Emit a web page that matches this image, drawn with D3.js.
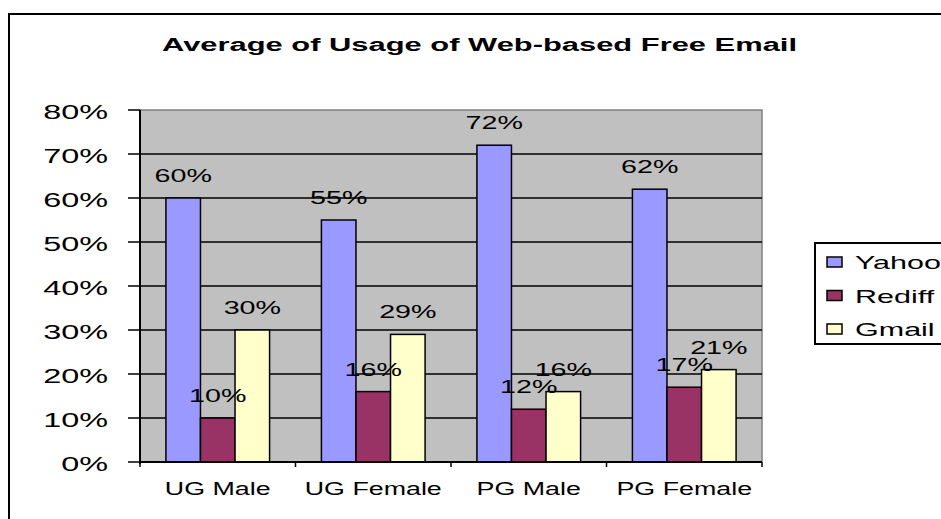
<!DOCTYPE html>
<html>
<head>
<meta charset="utf-8">
<script src="https://cdn.jsdelivr.net/npm/d3@7.9.0/dist/d3.min.js"></script>
<style>
  html, body { margin: 0; padding: 0; background: #fff; overflow: hidden; }
  text { font-family: "Liberation Sans", Arial, sans-serif; fill: #000; }
</style>
</head>
<body>
<div id="chart"></div>
<script>
// === Data ===
const categories = ["UG Male", "UG Female", "PG Male", "PG Female"];
const seriesNames = ["Yahoo", "Rediff", "Gmail"];
const yahoo = [0.60, 0.55, 0.72, 0.62];
const rediff = [0.10, 0.16, 0.12, 0.17];
const gmail = [0.30, 0.29, 0.16, 0.21];
const yTicks = [0, 0.1, 0.2, 0.3, 0.4, 0.5, 0.6, 0.7, 0.8];
const title = "Average of Usage of Web-based Free Email";

const seriesColors = ["#9999ff", "#993366", "#ffffcc"];

// === Layout ===
const W = 941, H = 519;
const plot = { left: 140, right: 762, top: 110, bottom: 462 };
const stretch = 1.55; // the reference text is drawn wide

const svg = d3.select("#chart").append("svg")
    .attr("width", W).attr("height", H);

// outer chart border (runs off the right and bottom of the picture)
svg.append("rect")
    .attr("x", 9).attr("y", 14)
    .attr("width", 960).attr("height", 540)
    .attr("fill", "#fff").attr("stroke", "#000").attr("stroke-width", 2);

// === Scales ===
const x = d3.scaleBand().domain(categories).range([plot.left, plot.right]).padding(0);
const y = d3.scaleLinear().domain([0, 0.8]).range([plot.bottom, plot.top]);
const barW = x.bandwidth() / 4.5;
const xInner = d3.scaleBand().domain(seriesNames)
    .range([barW * 0.75, barW * 3.75]).padding(0);

// helper for horizontally stretched text
function wideText(g, tx, ty, str, size, sx, anchor) {
    return g.append("text")
        .attr("transform", `translate(${tx},${ty}) scale(${sx},1)`)
        .attr("text-anchor", anchor || "middle")
        .style("font-size", size + "px")
        .text(str);
}

// === Plot area ===
svg.append("rect")
    .attr("x", plot.left).attr("y", plot.top)
    .attr("width", plot.right - plot.left).attr("height", plot.bottom - plot.top)
    .attr("fill", "#c0c0c0").attr("stroke", "#808080").attr("stroke-width", 1.5);

// gridlines
svg.append("g").selectAll("line")
    .data(yTicks.filter(t => t > 0 && t < 0.8))
    .join("line")
    .attr("x1", plot.left).attr("x2", plot.right)
    .attr("y1", d => y(d)).attr("y2", d => y(d))
    .attr("stroke", "#000").attr("stroke-width", 1.5);

// === Bars ===
const rows = categories.map((c, i) => ({
    cat: c,
    values: [yahoo[i], rediff[i], gmail[i]]
}));

const groups = svg.append("g").selectAll("g")
    .data(rows)
    .join("g")
    .attr("transform", d => `translate(${x(d.cat)},0)`);

groups.selectAll("rect")
    .data(d => d.values.map((v, j) => ({ name: seriesNames[j], v, j })))
    .join("rect")
    .attr("x", d => xInner(d.name))
    .attr("y", d => y(d.v))
    .attr("width", xInner.bandwidth())
    .attr("height", d => y(0) - y(d.v))
    .attr("fill", d => seriesColors[d.j])
    .attr("stroke", "#000").attr("stroke-width", 1.5);

// value labels above the bars
groups.each(function(d) {
    const g = d3.select(this);
    d.values.forEach((v, j) => {
        const cx = xInner(seriesNames[j]) + xInner.bandwidth() / 2;
        wideText(g, cx, y(v) - 16, Math.round(v * 100) + "%", 18.5, stretch);
    });
});

// === Axes ===
const yAxis = svg.append("g");
yAxis.append("line")
    .attr("x1", plot.left).attr("x2", plot.left)
    .attr("y1", plot.top).attr("y2", plot.bottom + 2)
    .attr("stroke", "#000").attr("stroke-width", 2);
yAxis.selectAll(".tick")
    .data(yTicks)
    .join("line")
    .attr("x1", plot.left - 12).attr("x2", plot.left)
    .attr("y1", d => y(d)).attr("y2", d => y(d))
    .attr("stroke", "#000").attr("stroke-width", 1.5);
yTicks.forEach(t => {
    wideText(yAxis, 108, y(t) + 8.5, d3.format(".0%")(t), 20, 1.62, "end");
});

const xAxis = svg.append("g");
xAxis.append("line")
    .attr("x1", plot.left).attr("x2", plot.right)
    .attr("y1", plot.bottom).attr("y2", plot.bottom)
    .attr("stroke", "#000").attr("stroke-width", 2);
xAxis.selectAll("line.tick")
    .data(categories.map(c => x(c)).concat([plot.right]))
    .join("line")
    .attr("class", "tick")
    .attr("x1", d => d).attr("x2", d => d)
    .attr("y1", plot.bottom).attr("y2", plot.bottom + 5)
    .attr("stroke", "#000").attr("stroke-width", 1.5);
categories.forEach(c => {
    wideText(xAxis, x(c) + x.bandwidth() / 2, 495, c, 18.5, 1.45);
});

// === Title ===
svg.append("text")
    .attr("x", 162).attr("y", 51)
    .attr("textLength", 635).attr("lengthAdjust", "spacingAndGlyphs")
    .style("font-size", "18px").style("font-weight", "bold")
    .text(title);

// === Legend ===
const legend = svg.append("g");
legend.append("rect")
    .attr("x", 815).attr("y", 243)
    .attr("width", 160).attr("height", 101)
    .attr("fill", "#fff").attr("stroke", "#000").attr("stroke-width", 2);
seriesNames.forEach((name, i) => {
    const cy = 262 + i * 33.5;
    legend.append("rect")
        .attr("x", 827).attr("y", cy - 5)
        .attr("width", 15).attr("height", 10)
        .attr("fill", seriesColors[i])
        .attr("stroke", "#000").attr("stroke-width", 1.5);
    wideText(legend, 855, cy + 7, name, 18.5, 1.65, "start");
});
</script>
</body>
</html>
